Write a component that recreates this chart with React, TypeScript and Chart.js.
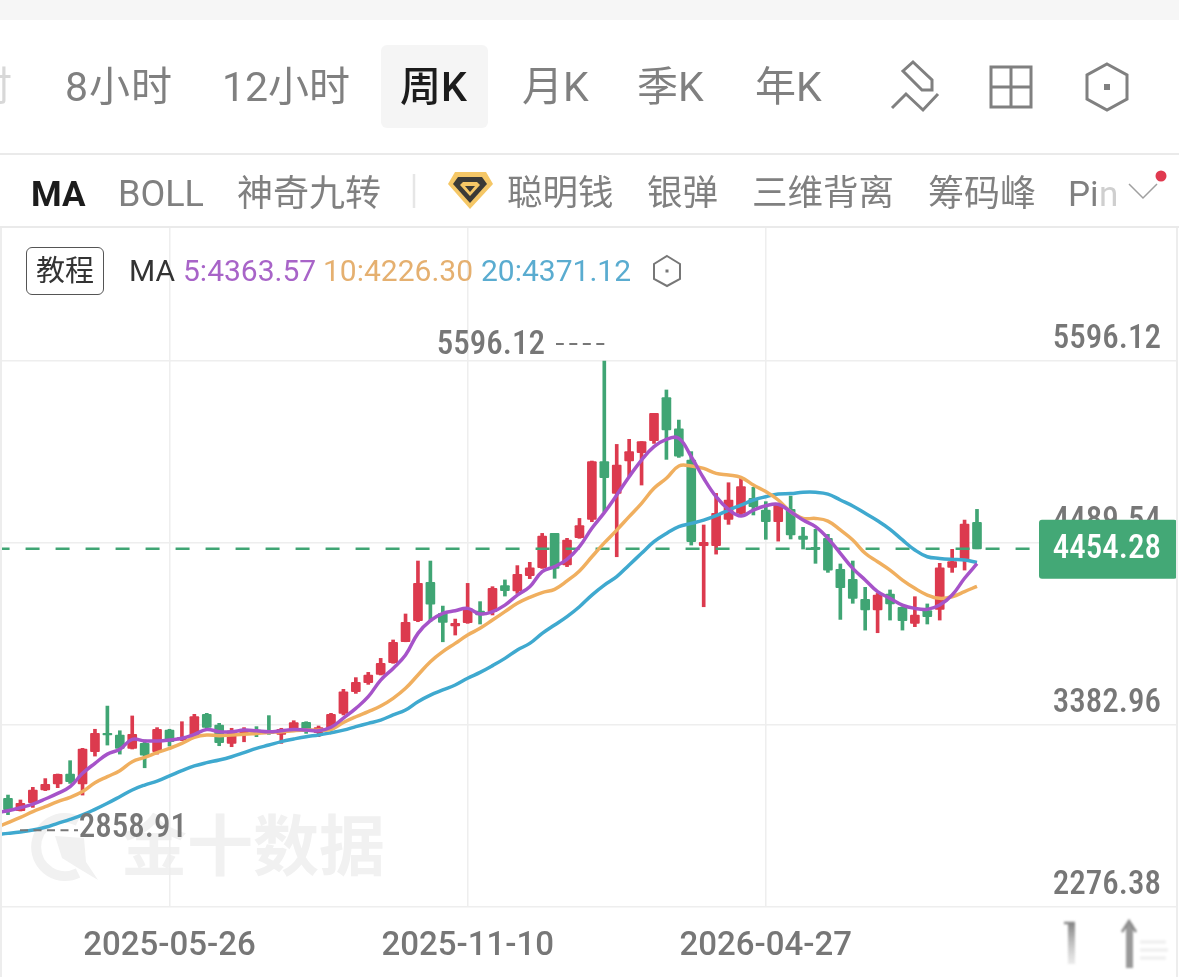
import React, { useEffect, useRef } from "react";
import { Chart, registerables } from "chart.js";

Chart.register(...registerables);

const opens = [2937,2862,2911,2988,3024,3085,3024,3221,3332,3322,3241,3271,3221,3352,3292,3318,3448,3383,3271,3336,3352,3342,3326,3359,3399,3336,3363,3454,3585,3640,3691,3762,3889,4017,4250,4062,3985,4005,4076,4072,4230,4198,4291,4339,4548,4356,4522,4633,4984,4791,4988,5039,5112,5373,5183,4994,4473,4473,4633,4670,4761,4690,4619,4694,4532,4463,4518,4329,4269,4147,4082,4179,4098,4001,4078,4086,4341,4390,4615];
const closes = [2868,2907,2988,3022,3083,3038,3237,3332,3322,3241,3326,3200,3357,3282,3308,3434,3369,3275,3348,3357,3336,3332,3357,3397,3342,3367,3448,3585,3642,3687,3758,3885,4007,4244,4117,4007,4001,4092,4052,4214,4200,4299,4338,4532,4335,4508,4595,4984,4887,4964,5045,5106,5278,5177,5018,4497,4493,4670,4751,4832,4710,4619,4726,4538,4512,4451,4325,4218,4153,4082,4173,4119,4017,4052,4041,4339,4376,4605,4454.28];
const highs = [2957,2927,3004,3057,3085,3166,3241,3357,3498,3348,3438,3292,3367,3357,3403,3448,3454,3393,3363,3367,3373,3440,3363,3409,3403,3377,3454,3600,3671,3703,3788,3900,4058,4380,4380,4106,4027,4244,4133,4224,4265,4352,4372,4548,4548,4518,4639,4988,5596.12,5089,5120,5106,5278,5420,5237,5045,4599,4791,4856,4883,4828,4741,4726,4775,4585,4573,4542,4362,4380,4220,4183,4204,4102,4163,4119,4366,4451,4629,4694];
const lows = [2838,2860,2882,2984,3002,3028,2957,3194,3261,3206,3237,3123,3206,3255,3288,3312,3356,3257,3251,3281,3312,3326,3271,3342,3332,3312,3352,3444,3575,3630,3687,3758,3889,4011,4011,3889,3930,4001,3997,4052,4167,4183,4273,4335,4275,4346,4518,4619,4680,4406,4893,4842,5095,4998,5010,4477,4102,4422,4603,4650,4660,4512,4501,4514,4453,4366,4311,4025,4123,3960,3944,4021,3960,3981,3997,4021,4311,4325,4454.28];

// Moving averages start one week before the first visible candle (clipped at the left edge).
const ma5 = [2850,2862,2880,2902,2933,2967,3008,3089,3150,3206,3235,3296,3286,3286,3292,3302,3326,3356,3342,3342,3352,3348,3342,3348,3356,3352,3348,3369,3425,3484,3555,3656,3727,3808,3940,4017,4062,4078,4092,4058,4072,4112,4173,4224,4315,4346,4390,4467,4579,4674,4781,4893,4994,5075,5120,5126,5014,4883,4771,4694,4654,4690,4716,4725,4680,4629,4589,4518,4427,4335,4265,4194,4153,4112,4092,4086,4112,4173,4275,4363.57];
const ma10 = [2758,2789,2821,2856,2886,2917,2943,2978,3032,3069,3105,3160,3186,3215,3241,3271,3308,3322,3318,3322,3326,3332,3338,3342,3348,3352,3352,3356,3398,3433,3464,3498,3545,3606,3687,3768,3829,3879,3930,3971,4021,4072,4123,4159,4188,4208,4259,4320,4406,4490,4568,4650,4731,4822,4883,4958,4958,4943,4913,4903,4889,4842,4802,4751,4680,4639,4639,4623,4569,4508,4427,4376,4325,4264,4214,4173,4153,4163,4194,4226.30];
const ma20 = [2718,2724,2732,2744,2761,2785,2809,2836,2870,2907,2947,2988,3018,3042,3073,3105,3134,3154,3170,3190,3215,3241,3261,3282,3298,3312,3322,3336,3352,3373,3393,3413,3444,3474,3525,3565,3596,3626,3667,3703,3744,3788,3839,3879,3940,3991,4042,4102,4173,4234,4285,4356,4427,4498,4548,4589,4609,4629,4656,4690,4720,4751,4771,4787,4790,4798,4798,4787,4751,4715,4670,4625,4573,4508,4447,4406,4396,4390,4386,4371.12];

const xTickIndexes = [13, 37, 61];
const xTickLabels = ["2025-05-26", "2025-11-10", "2026-04-27"];
const yTickValues = [2276.38, 3382.96, 4489.54, 5596.12];
const lastPrice = 4454.28;
const highPrice = 5596.12;
const lastPriceSpan = [-1, 95];

const RED = "#DC3A4E";
const GREEN = "#40A574";
const PURPLE = "#A653C9";
const ORANGE = "#F0AF5F";
const BLUE = "#3FA9CF";
const NARROW = "Roboto, sans-serif";
const CJK = 'Roboto, "Noto Sans CJK SC", sans-serif';

const candleColors = opens.map((o, i) => (closes[i] < o ? GREEN : RED));

const overlayPlugin = {
  id: "priceMarks",
  afterDraw(chart: any) {
    const { ctx, scales } = chart;
    const y = scales.y;
    const x = scales.x;
    ctx.save();
    const tagY = y.getPixelForValue(lastPrice);
    ctx.fillStyle = "#43A876";
    ctx.beginPath();
    ctx.roundRect(1039, tagY - 29, 138, 59, 3);
    ctx.fill();
    ctx.fillStyle = "#ffffff";
    ctx.font = `500 condensed 33px ${NARROW}`;
    ctx.textAlign = "right";
    ctx.textBaseline = "middle";
    ctx.fillText(lastPrice.toFixed(2), 1161, tagY + 1);
    const hiX = x.getPixelForValue(highs.indexOf(highPrice));
    ctx.fillStyle = "#777777";
    ctx.fillText(highPrice.toFixed(2), 545, y.getPixelForValue(highPrice) - 15);
    ctx.strokeStyle = "#777777";
    ctx.lineWidth = 2;
    ctx.setLineDash([8, 5.5]);
    ctx.beginPath();
    ctx.moveTo(hiX, y.getPixelForValue(highPrice) - 17);
    ctx.lineTo(556, y.getPixelForValue(highPrice) - 17);
    ctx.stroke();
    const loY = y.getPixelForValue(2858.91) + 18;
    ctx.fillText("2858.91", 187, loY);
    ctx.beginPath();
    ctx.moveTo(20, loY + 1);
    ctx.lineTo(78, loY + 1);
    ctx.stroke();
    ctx.restore();
  },
};

const Txt = ({ x, y, size, color, weight, children, family, spacing }: any) => (
  <span
    style={{
      position: "absolute",
      left: x,
      top: y,
      transform: "translateY(-50%)",
      fontSize: size,
      color,
      fontWeight: weight || 400,
      fontFamily: family || CJK,
      letterSpacing: spacing || 0,
      whiteSpace: "nowrap",
      lineHeight: 1,
    }}
  >
    {children}
  </span>
);

export default function App() {
  const ref = useRef<HTMLCanvasElement>(null);
  useEffect(() => {
    document.body.style.margin = "0";
    const line = (data: number[], color: string, order: number) => ({
      type: "line",
      data: data.map((v, i) => ({ x: i - 1, y: v })),
      borderColor: color,
      borderWidth: 3.5,
      pointRadius: 0,
      tension: 0.4,
      order,
    });
    const chart = new Chart(ref.current as any, {
      data: {
        datasets: [
          {
            type: "bar",
            data: opens.map((_, i) => ({ x: i, y: [lows[i], highs[i]] })),
            backgroundColor: candleColors,
            barThickness: 3,
            grouped: false,
            order: 6,
          },
          {
            type: "bar",
            data: opens.map((o, i) => ({ x: i, y: [o, closes[i]] })),
            backgroundColor: candleColors,
            barThickness: 9,
            borderRadius: 1,
            borderSkipped: false,
            grouped: false,
            order: 5,
          },
          {
            type: "line",
            data: lastPriceSpan.map((x) => ({ x, y: lastPrice })),
            borderColor: GREEN,
            borderWidth: 2.5,
            borderDash: [14, 16],
            pointRadius: 0,
            order: 4,
          },
          line(ma20, BLUE, 3),
          line(ma10, ORANGE, 2),
          line(ma5, PURPLE, 1),
        ] as any,
      },
      options: {
        animation: false,
        responsive: false,
        parsing: { xAxisKey: "x", yAxisKey: "y" } as any,
        layout: { padding: { left: 2, right: 2, top: 228, bottom: 0 } },
        plugins: { legend: { display: false }, tooltip: { enabled: false } },
        scales: {
          x: {
            type: "linear",
            offset: false,
            min: -0.483,
            max: 94.1,
            afterBuildTicks: (s: any) => {
              s.ticks = xTickIndexes.map((value) => ({ value }));
            },
            afterFit: (s: any) => {
              s.height = 70;
            },
            grid: { color: "#EEEEEE", lineWidth: 1.5, drawTicks: false, offset: false },
            border: { display: false },
            ticks: {
              autoSkip: false,
              maxRotation: 0,
              padding: 20,
              color: "#777777",
              font: { family: NARROW, size: 33, weight: "500" },
              callback: (v: any) => xTickLabels[xTickIndexes.indexOf(Number(v))] ?? "",
            },
          },
          y: {
            type: "linear",
            position: "right",
            min: 2276.38,
            max: 6404.8,
            afterBuildTicks: (s: any) => {
              s.ticks = yTickValues.map((value) => ({ value }));
            },
            afterFit: (s: any) => {
              s.width = 0;
            },
            grid: { color: "#EEEEEE", lineWidth: 1.5, drawTicks: false },
            border: { display: false },
            ticks: {
              mirror: true,
              padding: -16,
              color: "#777777",
              font: { family: NARROW, size: 33, weight: "500 condensed", lineHeight: "42px" },
              callback: (v: any) => [Number(v).toFixed(2), ""],
            },
          },
        },
      } as any,
      plugins: [overlayPlugin],
    });
    return () => chart.destroy();
  }, []);

  return (
    <div style={{ position: "relative", width: 1179, height: 977, overflow: "hidden", background: "#fff" }}>
      <svg width={1179} height={977} style={{ position: "absolute", left: 0, top: 0 }}>
        <path d="M78 821 A29 29 0 1 0 78 873" fill="none" stroke="#F1F1F1" strokeWidth={10} />
        <path d="M55 836 L84 838 L86 862 L98 880 L78 868 L62 858 Z" fill="#F1F1F1" />
        <text x={121} y={870} fontSize={66} fontWeight={700} fontFamily='"Noto Sans CJK SC"' fill="#F1F1F1">
          金十数据
        </text>
      </svg>
      <canvas ref={ref} width={1179} height={977} style={{ position: "absolute", left: 0, top: 0, display: "block" }} />

      <div style={{ position: "absolute", left: 0, top: 0, width: 1179, height: 20, background: "#F6F6F6" }} />
      <div style={{ position: "absolute", left: 0, top: 153, width: 1179, height: 2, background: "#EAEAEA" }} />
      <div style={{ position: "absolute", left: 0, top: 226, width: 1179, height: 2, background: "#EAEAEA" }} />
      <div style={{ position: "absolute", left: 0, top: 228, width: 2, height: 749, background: "#EDEDED" }} />
      <div style={{ position: "absolute", left: 1176, top: 228, width: 2, height: 749, background: "#EDEDED" }} />
      <div style={{ position: "absolute", left: 381, top: 45, width: 107, height: 83, background: "#F5F5F5", borderRadius: 6 }} />

      <Txt x={-29} y={87} size={41} color="#D8D8D8">时</Txt>
      <Txt x={65} y={87} size={41} color="#808080" spacing={1}>8小时</Txt>
      <Txt x={222} y={87} size={41} color="#808080">12小时</Txt>
      <Txt x={400} y={87} size={41} color="#1C1C1C" weight={500}>周K</Txt>
      <Txt x={522} y={87} size={41} color="#808080">月K</Txt>
      <Txt x={637} y={87} size={41} color="#808080">季K</Txt>
      <Txt x={755} y={87} size={41} color="#808080">年K</Txt>
      <svg width={1179} height={230} style={{ position: "absolute", left: 0, top: 0 }} fill="none" stroke="#808080" strokeWidth={3}>
        <path d="M913 62 L932 80 L932 90 L922 90 L903 71 Z" />
        <path d="M892 108 L906 94 L923 110 L938 94" />
        <rect x={991} y={67} width={40} height={40} />
        <path d="M1011 67 V107 M991 87 H1031" />
        <path d="M1107 64 L1127 75 L1127 99 L1107 110 L1087 99 L1087 75 Z" />
        <rect x={1104} y={84} width={6} height={6} fill="#808080" stroke="none" />
        <path d="M1129 184 L1143 198 L1157 184" stroke="#A0A0A0" strokeWidth={1.5} />
        <circle cx={1161} cy={176} r={5.5} fill="#E0394F" stroke="none" />
        <path d="M414 174 V208" stroke="#E6E6E6" strokeWidth={2.5} />
        <path d="M455 172 L486 172 L493 184 L470 209 L448 184 Z" fill="#F5C766" stroke="none" />
        <path d="M458 177 L482 177 L487 184 L470 203 L453 184 Z" fill="#3B3A36" stroke="none" />
        <path d="M463 182 L477 182 L480 185 L470 196 L460 185 Z" fill="#F5C766" stroke="none" />
        <path d="M465 186 L475 186 L470 192 Z" fill="#3B3A36" stroke="none" />
      </svg>

      <Txt x={31} y={194} size={35} color="#1C1C1C" weight={700}>MA</Txt>
      <Txt x={118} y={194} size={36} color="#808080">BOLL</Txt>
      <Txt x={237} y={194} size={36} color="#808080">神奇九转</Txt>
      <Txt x={507} y={194} size={35.5} color="#808080">聪明钱</Txt>
      <Txt x={647} y={194} size={35.5} color="#808080">银弹</Txt>
      <Txt x={752} y={194} size={35.5} color="#808080">三维背离</Txt>
      <Txt x={928} y={194} size={36} color="#808080">筹码峰</Txt>
      <Txt x={1068} y={194} size={35} color="#808080">Pi</Txt>
      <Txt x={1099} y={194} size={35} color="#CFCFCF">n</Txt>

      <div style={{ position: "absolute", left: 26, top: 247, width: 78, height: 48, boxSizing: "border-box", border: "1.5px solid #555", borderRadius: 6 }} />
      <Txt x={36} y={271} size={29} color="#333333">教程</Txt>
      <Txt x={129} y={271} size={30} color="#333333">MA</Txt>
      <Txt x={183} y={271} size={30} color="#A864C8">5:4363.57</Txt>
      <Txt x={323} y={271} size={30} color="#E5B070">10:4226.30</Txt>
      <Txt x={481} y={271} size={30} color="#5AACD0">20:4371.12</Txt>
      <svg width={700} height={300} style={{ position: "absolute", left: 0, top: 0 }} fill="none" stroke="#777" strokeWidth={2}>
        <path d="M667 256 L680 264 L680 279 L667 286 L654 279 L654 264 Z" />
        <rect x={665.5} y={269.5} width={3} height={3} fill="#777" stroke="none" />
      </svg>

      <svg width={1179} height={977} style={{ position: "absolute", left: 0, top: 0, pointerEvents: "none" }}>
        <defs>
          <filter id="soft"><feGaussianBlur stdDeviation="1.2" /></filter>
          <linearGradient id="fade" x1="0" y1="0" x2="0" y2="1">
            <stop offset="0" stopColor="#888" />
            <stop offset="1" stopColor="#bbb" stopOpacity="0.3" />
          </linearGradient>
        </defs>
        <g filter="url(#soft)">
          <rect x={1068} y={924} width={7} height={40} fill="url(#fade)" />
          <path d="M1064 923 H1075" stroke="#888" strokeWidth={2.5} />
          <rect x={1126} y={924} width={7} height={44} fill="#999" />
          <path d="M1122 932 L1129 921 L1136 932" stroke="#888" strokeWidth={2.5} fill="none" />
          <path d="M1140 942 H1166 M1140 950 H1168 M1140 958 H1166" stroke="#EEE" strokeWidth={3} />
        </g>
      </svg>
    </div>
  );
}
